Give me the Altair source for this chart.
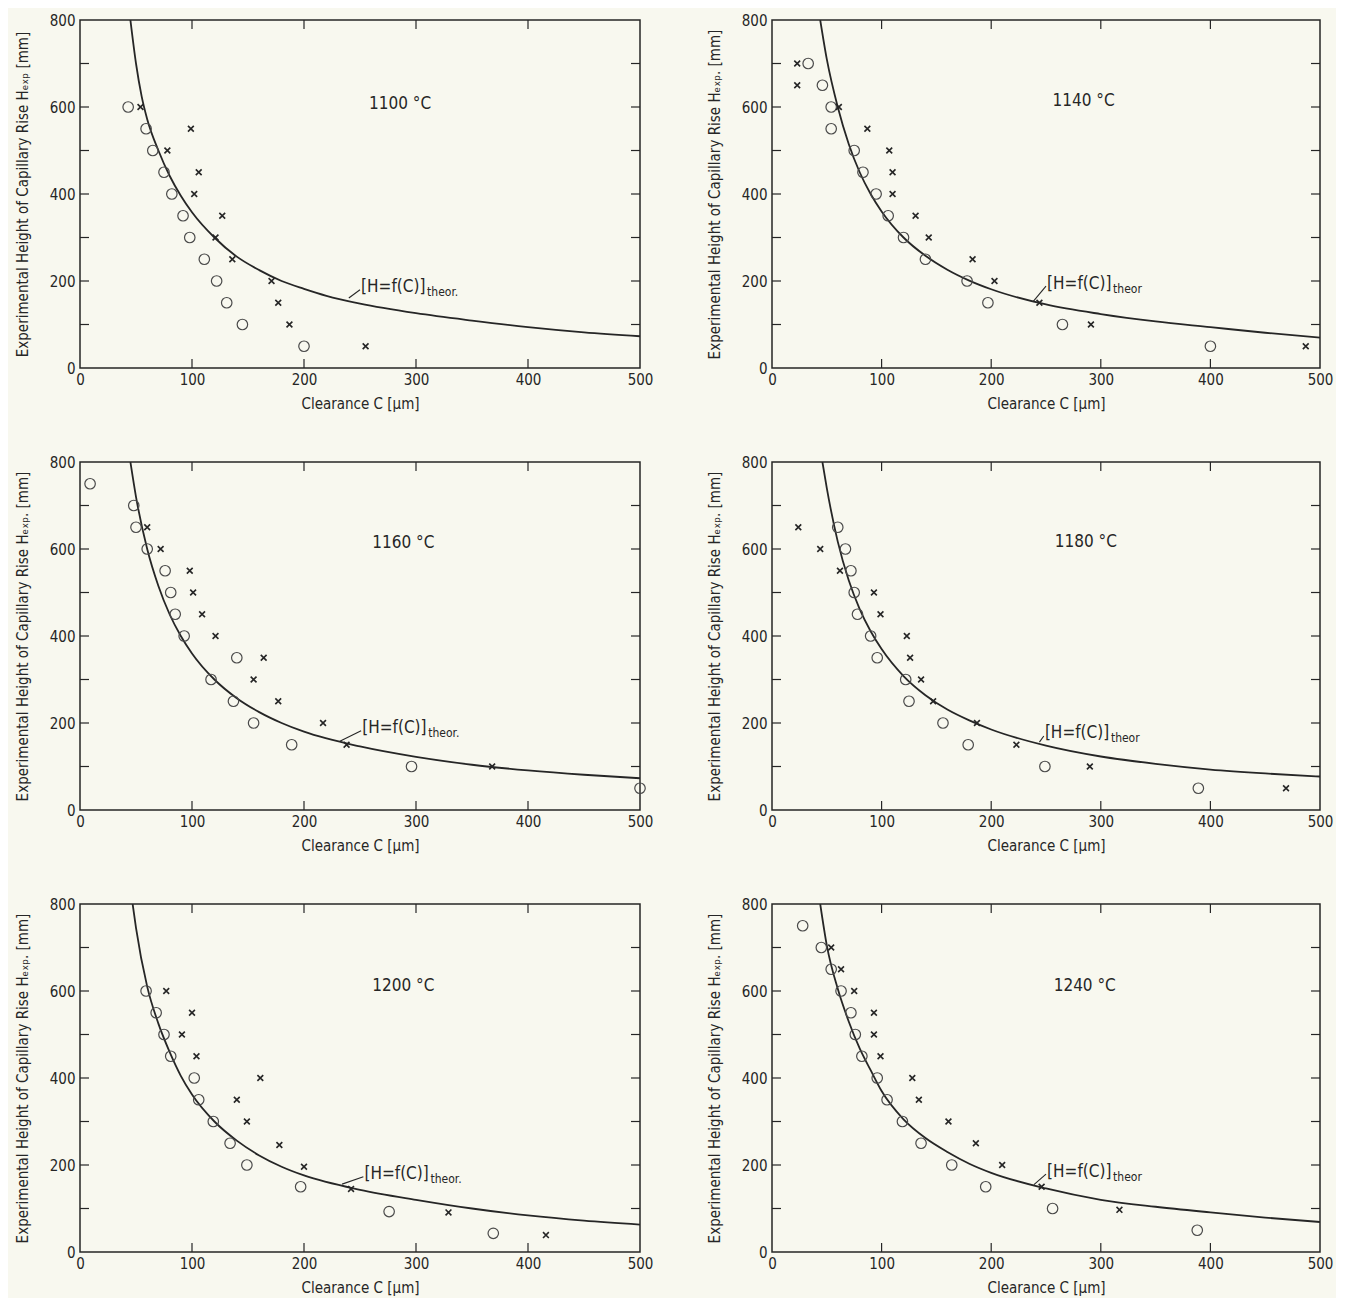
import altair as alt
import pandas as pd

FONT = "Liberation Sans Narrow, DejaVu Sans Condensed, Arial Narrow, sans-serif"
INK = "#262626"
PAPER = "#f8f8ef"

# ---------------- data ----------------
x_ticks = [100, 200, 300, 400]
y_ticks = [100, 200, 300, 400, 500, 600, 700]

# Panel 1: 1100 °C
p1_circle_C = [43, 59, 65, 75, 82, 92, 98, 111, 122, 131, 145, 200]
p1_circle_H = [600, 550, 500, 450, 400, 350, 300, 250, 200, 150, 100, 50]
p1_cross_C = [54, 99, 78, 106, 102, 127, 121, 136, 171, 177, 187, 255]
p1_cross_H = [600, 550, 500, 450, 400, 350, 300, 250, 200, 150, 100, 50]
p1_curve_C = [45, 50, 55, 60, 70, 80, 90, 100, 120, 140, 160, 180, 200, 220, 250, 300, 350, 400, 450, 500]
p1_curve_H = [800, 700, 625, 572, 500, 442, 396, 358, 300, 256, 225, 200, 182, 166, 148, 126, 109, 94, 82, 73]

# Panel 2: 1140 °C
p2_circle_C = [33, 46, 54, 54, 75, 83, 95, 106, 120, 140, 178, 197, 265, 400]
p2_circle_H = [700, 650, 600, 550, 500, 450, 400, 350, 300, 250, 200, 150, 100, 50]
p2_cross_C = [23, 23, 61, 87, 107, 110, 110, 131, 143, 183, 203, 244, 291, 487]
p2_cross_H = [700, 650, 600, 550, 500, 450, 400, 350, 300, 250, 200, 150, 100, 50]
p2_curve_C = [44, 50, 60, 70, 80, 90, 100, 120, 140, 160, 180, 200, 250, 300, 350, 400, 450, 500]
p2_curve_H = [800, 710, 600, 515, 450, 400, 360, 300, 258, 226, 201, 181, 146, 124, 107, 94, 81, 70]

# Panel 3: 1160 °C
p3_circle_C = [9, 48, 50, 60, 76, 81, 85, 93, 117, 140, 137, 155, 189, 296, 500]
p3_circle_H = [750, 700, 650, 600, 550, 500, 450, 400, 300, 350, 250, 200, 150, 100, 50]
p3_cross_C = [60, 72, 98, 101, 109, 121, 164, 155, 177, 217, 238, 368]
p3_cross_H = [650, 600, 550, 500, 450, 400, 350, 300, 250, 200, 150, 100]
p3_curve_C = [45, 50, 60, 70, 80, 90, 100, 120, 140, 160, 180, 200, 250, 300, 350, 400, 450, 500]
p3_curve_H = [800, 720, 600, 515, 450, 400, 360, 300, 257, 225, 200, 180, 146, 122, 104, 91, 81, 73]

# Panel 4: 1180 °C
p4_circle_C = [60, 67, 72, 75, 78, 90, 96, 122, 125, 156, 179, 249, 389]
p4_circle_H = [650, 600, 550, 500, 450, 400, 350, 300, 250, 200, 150, 100, 50]
p4_cross_C = [24, 44, 62, 93, 99, 123, 126, 136, 147, 187, 223, 290, 469]
p4_cross_H = [650, 600, 550, 500, 450, 400, 350, 300, 250, 200, 150, 100, 50]
p4_curve_C = [46, 50, 60, 70, 80, 90, 100, 120, 140, 160, 180, 200, 250, 300, 350, 400, 450, 500]
p4_curve_H = [800, 740, 617, 528, 462, 411, 370, 308, 264, 231, 206, 185, 148, 123, 106, 93, 84, 77]

# Panel 5: 1200 °C
p5_circle_C = [59, 68, 75, 81, 102, 106, 119, 134, 149, 197, 276, 369]
p5_circle_H = [600, 550, 500, 450, 400, 350, 300, 250, 200, 150, 93, 43]
p5_cross_C = [77, 100, 91, 104, 161, 140, 149, 178, 200, 242, 329, 416]
p5_cross_H = [600, 550, 500, 450, 400, 350, 300, 246, 196, 145, 91, 39]
p5_curve_C = [47, 50, 60, 70, 80, 90, 100, 120, 140, 160, 180, 200, 250, 300, 350, 400, 450, 500]
p5_curve_H = [800, 745, 610, 525, 460, 405, 362, 300, 256, 222, 196, 176, 143, 120, 100, 84, 72, 63]

# Panel 6: 1240 °C
p6_circle_C = [28, 45, 54, 63, 72, 76, 82, 96, 105, 119, 136, 164, 195, 256, 388]
p6_circle_H = [750, 700, 650, 600, 550, 500, 450, 400, 350, 300, 250, 200, 150, 100, 50]
p6_cross_C = [54, 63, 75, 93, 93, 99, 128, 134, 161, 186, 210, 246, 317]
p6_cross_H = [700, 650, 600, 550, 500, 450, 400, 350, 300, 250, 200, 150, 97]
p6_curve_C = [44, 50, 60, 70, 80, 90, 100, 120, 140, 160, 180, 200, 250, 300, 350, 400, 450, 500]
p6_curve_H = [800, 705, 605, 530, 468, 418, 370, 305, 262, 230, 203, 182, 146, 120, 104, 91, 79, 69]

temps = ["1100 °C", "1140 °C", "1160 °C", "1180 °C", "1200 °C", "1240 °C"]
subs = ["theor.", "theor", "theor.", "theor", "theor.", "theor"]
ytitle_base = "Experimental Height of Capillary Rise H\u2091\u2093\u209a"
ytitles = [ytitle_base + " [mm]"] + [ytitle_base + ". [mm]"] * 5
xtitle = "Clearance C [\u00b5m]"

# annotation anchors (data coordinates)
temp_pos = [(258, 606), (256, 614), (261, 614), (258, 617), (261, 611), (257, 611)]
label_pos = [(251, 186), (251, 194), (252, 188), (249, 176), (254, 179), (251, 185)]
lead_from = [(240, 161), (238, 152), (232, 158), (244, 156), (234, 156), (239, 155)]

CROSS = "M-1,-1L1,1M-1,1L1,-1"


def panel(i, circle_C, circle_H, cross_C, cross_H, curve_C, curve_H, W, Hh):
    xs = alt.Scale(domain=[0, 500], nice=False, zero=False)
    ys = alt.Scale(domain=[0, 800], nice=False, zero=False)
    xaxis = alt.Axis(values=[0, 100, 200, 300, 400, 500], title=xtitle, tickSize=0,
                     domain=False, grid=False, labelPadding=4, titlePadding=9,
                     labelFlush=False)
    yaxis = alt.Axis(values=[0, 200, 400, 600, 800], title=ytitles[i], tickSize=0,
                     domain=False, grid=False, labelPadding=5, titlePadding=19)

    curve = alt.Chart(pd.DataFrame({"C": curve_C, "H": curve_H})).mark_line(
        color=INK, strokeWidth=1.8, interpolate="monotone", clip=True
    ).encode(x=alt.X("C:Q", scale=xs, axis=xaxis), y=alt.Y("H:Q", scale=ys, axis=yaxis))

    circles = alt.Chart(pd.DataFrame({"C": circle_C, "H": circle_H})).mark_point(
        shape="circle", filled=False, size=110, color="#4a4a4a", strokeWidth=1.2, opacity=1
    ).encode(x="C:Q", y="H:Q")

    crosses = alt.Chart(pd.DataFrame({"C": cross_C, "H": cross_H})).mark_point(
        shape=CROSS, filled=False, size=34, color=INK, strokeWidth=1.6, opacity=1
    ).encode(x="C:Q", y="H:Q")

    xt = pd.DataFrame({"C": x_ticks})
    yt = pd.DataFrame({"H": y_ticks})
    tk = dict(color=INK, strokeWidth=1.2)
    top = alt.Chart(xt).mark_rule(**tk).encode(x="C:Q", y=alt.value(0), y2=alt.value(9))
    bot = alt.Chart(xt).mark_rule(**tk).encode(x="C:Q", y=alt.value(Hh), y2=alt.value(Hh - 9))
    lft = alt.Chart(yt).mark_rule(**tk).encode(y="H:Q", x=alt.value(0), x2=alt.value(9))
    rgt = alt.Chart(yt).mark_rule(**tk).encode(y="H:Q", x=alt.value(W), x2=alt.value(W - 9))

    tx, ty = temp_pos[i]
    temp = alt.Chart(pd.DataFrame({"C": [tx], "H": [ty], "t": [temps[i]]})).mark_text(
        align="left", baseline="middle", font=FONT, fontSize=17, color=INK
    ).encode(x="C:Q", y="H:Q", text="t:N")

    lx, ly = label_pos[i]
    lab = alt.Chart(pd.DataFrame({"C": [lx], "H": [ly], "t": ["[H=f(C)]"]})).mark_text(
        align="left", baseline="middle", font=FONT, fontSize=17, color=INK
    ).encode(x="C:Q", y="H:Q", text="t:N")
    sub = alt.Chart(pd.DataFrame({"C": [lx], "H": [ly], "t": [subs[i]]})).mark_text(
        align="left", baseline="middle", font=FONT, fontSize=12, color=INK, dx=66, dy=5
    ).encode(x="C:Q", y="H:Q", text="t:N")

    fx, fy = lead_from[i]
    lead = alt.Chart(pd.DataFrame({"C": [fx], "H": [fy], "C2": [lx - 1], "H2": [ly - 6]})).mark_rule(
        color=INK, strokeWidth=1.1
    ).encode(x="C:Q", y="H:Q", x2="C2:Q", y2="H2:Q")

    return alt.layer(curve, top, bot, lft, rgt, circles, crosses, lead, lab, sub, temp).properties(
        width=W, height=Hh
    )


WL, WR, HH = 560, 548, 348
p1 = panel(0, p1_circle_C, p1_circle_H, p1_cross_C, p1_cross_H, p1_curve_C, p1_curve_H, WL, HH)
p2 = panel(1, p2_circle_C, p2_circle_H, p2_cross_C, p2_cross_H, p2_curve_C, p2_curve_H, WR, HH)
p3 = panel(2, p3_circle_C, p3_circle_H, p3_cross_C, p3_cross_H, p3_curve_C, p3_curve_H, WL, HH)
p4 = panel(3, p4_circle_C, p4_circle_H, p4_cross_C, p4_cross_H, p4_curve_C, p4_curve_H, WR, HH)
p5 = panel(4, p5_circle_C, p5_circle_H, p5_cross_C, p5_cross_H, p5_curve_C, p5_curve_H, WL, HH)
p6 = panel(5, p6_circle_C, p6_circle_H, p6_cross_C, p6_cross_H, p6_curve_C, p6_curve_H, WR, HH)

rows = [alt.hconcat(a, b, spacing=52) for a, b in [(p1, p2), (p3, p4), (p5, p6)]]

chart = alt.vconcat(*rows, spacing=42).properties(
    padding={"top": 4, "left": 6, "right": 2, "bottom": 2}
).configure(
    background=PAPER
).configure_view(
    stroke=INK, strokeWidth=1.5
).configure_axis(
    labelFont=FONT, titleFont=FONT, labelFontSize=15, titleFontSize=15,
    labelColor=INK, titleColor=INK, titleFontWeight="normal"
)

chart.save("out.html", embed_options={"renderer": "svg", "actions": False})
